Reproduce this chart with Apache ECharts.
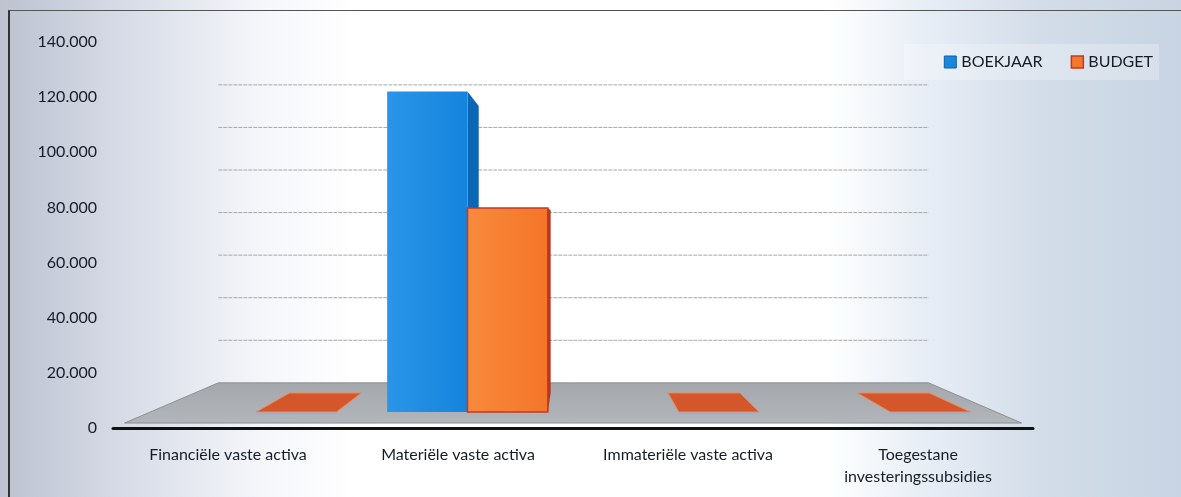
<!DOCTYPE html>
<html>
<head>
<meta charset="utf-8">
<script src="https://cdn.jsdelivr.net/npm/echarts@6/dist/echarts.min.js"></script>
<style>
  html, body { margin: 0; padding: 0; }
  body {
    width: 1181px; height: 497px; overflow: hidden;
    background: linear-gradient(90deg, #bcc2d0 0%, #d3d8e4 9%, #f4f6fa 22%, #ffffff 30%, #ffffff 70%, #e8eef6 78%, #d3dde9 88%, #c8d4e3 100%);
  }
  #frame { position: absolute; left: 8px; top: 10px; width: 1173px; height: 487px;
    border-top: 1px solid #555; border-left: 2px solid #333; }
  #main { position: absolute; left: 0; top: 0; width: 1181px; height: 497px; }
</style>
</head>
<body>
<div id="frame"></div>
<div id="main"></div>
<script>
var categories = ['Financiële vaste activa', 'Materiële vaste activa', 'Immateriële vaste activa', 'Toegestane\ninvesteringssubsidies'];
var boekjaar = ['-', 126500, '-', '-'];
var budget = [0, 80500, 0, 0];
var gridValues = [0, 20000, 40000, 60000, 80000, 100000, 120000, 140000];

// perspective: vanishing point and depth scales
var VPX = 575, VPY = 230;
var S_BAR_FRONT = 0.919, S_BAR_BACK = 0.823;
var S_FLOOR_FRONT = 0.975, S_WALL = 0.772;
var BAR_W = 0.38;

function proj(x, y, s) {
  return [VPX + (x - VPX) * s, VPY + (y - VPY) * s];
}

function wallLine(params, api) {
  var cs = params.coordSys;
  var y = api.coord([0, api.value(0)])[1];
  var a = proj(cs.x, y, S_WALL), b = proj(cs.x + cs.width, y, S_WALL);
  if (api.value(0) === 0) return;
  return {
    type: 'line',
    shape: { x1: a[0], y1: a[1], x2: b[0], y2: b[1] },
    style: { stroke: '#a8a8a8', lineWidth: 1, lineDash: [4, 1] }
  };
}

function floorItem(params, api) {
  var cs = params.coordSys;
  var y = api.coord([0, 0])[1];
  var x0 = cs.x, x1 = cs.x + cs.width;
  var pts = [proj(x0, y, S_FLOOR_FRONT), proj(x1, y, S_FLOOR_FRONT), proj(x1, y, S_WALL), proj(x0, y, S_WALL)];
  return {
    type: 'polygon',
    shape: { points: pts },
    style: {
      fill: new echarts.graphic.LinearGradient(0, 0, 0, 1, [
        { offset: 0, color: '#a4a7ac' }, { offset: 1, color: '#b2b5ba' }
      ]),
      stroke: '#8c8f94', lineWidth: 1
    }
  };
}

function barItem(left, front, side, edge) {
  return function (params, api) {
    var v = api.value(1);
    if (isNaN(v)) return;
    var c = api.coord([api.value(0), 0]);
    var top = api.coord([api.value(0), v])[1];
    var band = api.size([1, 0])[0];
    var x0 = left ? c[0] - BAR_W * band : c[0];
    var x1 = x0 + BAR_W * band;
    var y0 = c[1];
    var children = [];
    if (v === 0) {
      var p = [proj(x0, y0, S_BAR_FRONT), proj(x1, y0, S_BAR_FRONT), proj(x1, y0, S_BAR_BACK), proj(x0, y0, S_BAR_BACK)];
      children.push({
        type: 'line',
        shape: { x1: p[0][0], y1: p[0][1] + 1.5, x2: p[1][0], y2: p[1][1] + 1.5 },
        style: { stroke: '#8fb6dd', lineWidth: 2 }
      });
      children.push({
        type: 'polygon', shape: { points: p },
        style: { fill: '#d4572c', stroke: '#ee8a5a', lineWidth: 1 }
      });
      return { type: 'group', children: children };
    }
    var fbl = proj(x0, y0, S_BAR_FRONT), fbr = proj(x1, y0, S_BAR_FRONT);
    var ftl = proj(x0, top, S_BAR_FRONT), ftr = proj(x1, top, S_BAR_FRONT);
    var bbr = proj(x1, y0, S_BAR_BACK), btr = proj(x1, top, S_BAR_BACK);
    if (x1 < VPX) {
      children.push({
        type: 'polygon', shape: { points: [ftr, btr, bbr, fbr] },
        style: { fill: side }
      });
    }
    children.push({
      type: 'polygon', shape: { points: [fbl, fbr, ftr, ftl] },
      style: {
        fill: front,
        stroke: edge, lineWidth: edge ? 1.5 : 0
      }
    });
    return { type: 'group', children: children };
  };
}

var chart = echarts.init(document.getElementById('main'));
var option = {
  animation: false,
  textStyle: { fontFamily: 'Lato' },
  grid: { left: 113, right: 148, top: 42, bottom: 69 },
  legend: {
    right: 22, top: 44,
    itemWidth: 12, itemHeight: 12, itemGap: 28,
    backgroundColor: 'rgba(255,255,255,0.25)',
    padding: [10, 6, 10, 40],
    textStyle: { fontSize: 16, color: '#161c28', fontFamily: 'Lato' },
    data: [
      { name: 'BOEKJAAR', icon: 'rect', itemStyle: { color: '#1a86dc', borderColor: '#0e5fae', borderWidth: 1 } },
      { name: 'BUDGET', icon: 'rect', itemStyle: { color: '#f5782a', borderColor: '#c0392b', borderWidth: 1.5 } }
    ]
  },
  xAxis: {
    type: 'category',
    data: categories,
    axisTick: { show: false },
    axisLine: { lineStyle: { color: '#111', width: 3 } },
    axisLabel: { fontSize: 16, color: '#161c28', margin: 16, lineHeight: 22 }
  },
  yAxis: {
    type: 'value',
    min: 0, max: 140000, interval: 20000,
    axisLine: { show: false },
    axisTick: { show: false },
    splitLine: { show: false },
    axisLabel: {
      fontSize: 16, color: '#161c28', margin: 16,
      formatter: function (v) { return v.toLocaleString('de-DE'); }
    }
  },
  series: [
    {
      type: 'custom', name: 'wall', silent: true,
      renderItem: wallLine,
      data: gridValues.map(function (v) { return [v]; }),
      encode: { y: 0 }
    },
    {
      type: 'custom', name: 'floor', silent: true,
      renderItem: floorItem,
      data: [[0, 0]]
    },
    {
      type: 'custom', name: 'BOEKJAAR',
      itemStyle: { color: '#1a86dc' },
      renderItem: barItem(true, new echarts.graphic.LinearGradient(0, 0, 1, 0, [
        { offset: 0, color: '#2a95e8' }, { offset: 1, color: '#1584dd' }
      ]), '#0c66b6', null),
      data: boekjaar.map(function (v, i) { return [i, v]; })
    },
    {
      type: 'custom', name: 'BUDGET',
      itemStyle: { color: '#f5782a' },
      renderItem: barItem(false, new echarts.graphic.LinearGradient(0, 0, 1, 0, [
        { offset: 0, color: '#f88a3c' }, { offset: 1, color: '#f47528' }
      ]), '#b8321f', '#c0392b'),
      data: budget.map(function (v, i) { return [i, v]; })
    }
  ]
};
chart.setOption(option);
</script>
</body>
</html>
